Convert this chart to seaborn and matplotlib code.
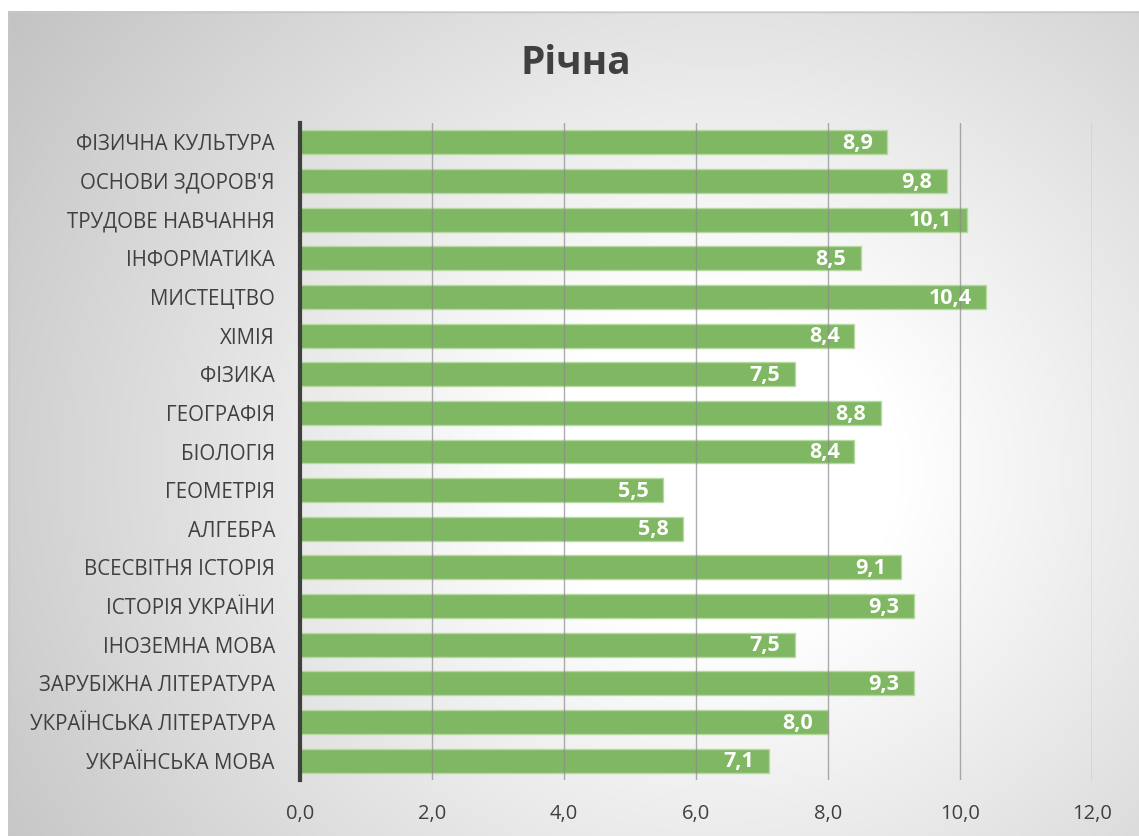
import numpy as np
import pandas as pd
import matplotlib
matplotlib.use("Agg")
import matplotlib.pyplot as plt
import seaborn as sns

title = "Річна"
subjects = [
    "ФІЗИЧНА КУЛЬТУРА", "ОСНОВИ ЗДОРОВ'Я", "ТРУДОВЕ НАВЧАННЯ", "ІНФОРМАТИКА",
    "МИСТЕЦТВО", "ХІМІЯ", "ФІЗИКА", "ГЕОГРАФІЯ", "БІОЛОГІЯ", "ГЕОМЕТРІЯ",
    "АЛГЕБРА", "ВСЕСВІТНЯ ІСТОРІЯ", "ІСТОРІЯ УКРАЇНИ", "ІНОЗЕМНА МОВА",
    "ЗАРУБІЖНА ЛІТЕРАТУРА", "УКРАЇНСЬКА ЛІТЕРАТУРА", "УКРАЇНСЬКА МОВА",
]
scores = [8.9, 9.8, 10.1, 8.5, 10.4, 8.4, 7.5, 8.8, 8.4, 5.5, 5.8, 9.1, 9.3, 7.5, 9.3, 8.0, 7.1]
xticks = [0, 2, 4, 6, 8, 10, 12]

df = pd.DataFrame({"subject": subjects, "score": scores})

sns.set_theme(style="white")
plt.rcParams["font.family"] = ["Open Sans", "DejaVu Sans"]

W, H = 1139, 836
fig = plt.figure(figsize=(W / 100, H / 100), dpi=100)

# background gradient
bg = fig.add_axes([0, 0, 1, 1])
yy, xx = np.mgrid[0:H, 0:W]
cx, cy = 720, 470
r = np.sqrt((xx - cx) ** 2 + ((yy - cy) * 1.1) ** 2)
t = np.clip((r - 180) / 700, 0, 1)
val = 1.0 - 0.24 * t
img = np.dstack([val, val, val])
img[:11, :, :] = 1.0
img[:, :8, :] = 1.0
bg.imshow(img, extent=[0, W, H, 0], aspect="auto", interpolation="bilinear")
bg.plot([8, W], [11.5, 11.5], color="#c8c8c8", lw=1)
bg.plot([8.5, 8.5], [11, H], color="#c8c8c8", lw=1)
bg.set_xlim(0, W)
bg.set_ylim(H, 0)
bg.axis("off")

ax = fig.add_axes([300 / W, 1 - 780 / H, (1092 - 300) / W, (780 - 123) / H])
ax.patch.set_alpha(0)
sns.barplot(data=df, x="score", y="subject", orient="h", color="#80b762",
            saturation=1, width=0.62, ax=ax, edgecolor="#b5d9a0", linewidth=1, zorder=2)

ax.set_xlim(0, 12)
ax.set_ylim(len(subjects) - 0.5, -0.5)
ax.set_xticks(xticks)
ax.set_xticklabels([f"{v:.1f}".replace(".", ",") for v in xticks], fontsize=14.5, color="#404040")
ax.tick_params(axis="y", labelsize=14.8, labelcolor="#404040", pad=18, length=0)
ax.tick_params(axis="x", pad=17, length=0)
ax.set_xlabel("")
ax.set_ylabel("")
for x in xticks[1:]:
    ax.axvline(x, color="#8a8a8a", lw=1, alpha=0.7, zorder=3)
for s in ["top", "right", "bottom"]:
    ax.spines[s].set_visible(False)
ax.spines["left"].set_color("#404040")
ax.spines["left"].set_linewidth(3)
ax.spines["left"].set_zorder(4)

for i, v in enumerate(scores):
    ax.text(v - 0.22, i + 0.03, f"{v:.1f}".replace(".", ","), ha="right", va="center",
            color="white", fontsize=15.5, fontweight="bold", zorder=5)

fig.text(576 / W, 1 - 63 / H, title, ha="center", va="center", fontsize=28,
         fontweight="bold", color="#404040")

fig.savefig("out.png", dpi=100)
